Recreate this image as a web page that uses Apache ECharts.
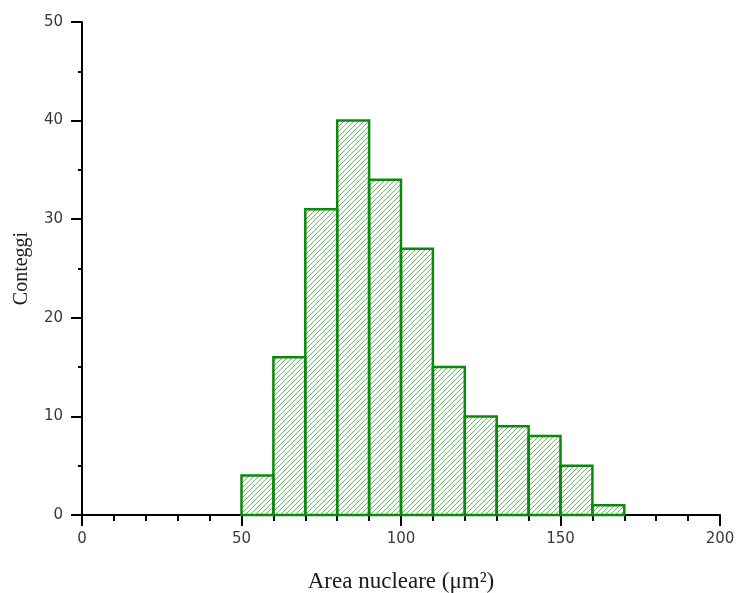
<!DOCTYPE html>
<html>
<head>
<meta charset="utf-8">
<script src="https://cdn.jsdelivr.net/npm/echarts@6/dist/echarts.min.js"></script>
<style>
  html, body { margin: 0; padding: 0; background: #fff; }
  #chart { width: 737px; height: 593px; }
</style>
</head>
<body>
<div id="chart"></div>
<script>
// Histogram bins (left edge, right edge) and counts
const binStarts = [50, 60, 70, 80, 90, 100, 110, 120, 130, 140, 150, 160];
const binEnds   = [60, 70, 80, 90, 100, 110, 120, 130, 140, 150, 160, 170];
const counts    = [4, 16, 31, 40, 34, 27, 15, 10, 9, 8, 5, 1];

const xTickLabels = [0, 50, 100, 150, 200];
const yTickLabels = [0, 10, 20, 30, 40, 50];

// Diagonal "/" hatch tile
function makeHatch() {
  const s = 5;
  const c = document.createElement('canvas');
  c.width = s; c.height = s;
  const g = c.getContext('2d');
  g.strokeStyle = 'rgba(50,165,50,0.75)';
  g.lineWidth = 1;
  g.beginPath();
  g.moveTo(-1, s + 1); g.lineTo(s + 1, -1);
  g.moveTo(-2, 2); g.lineTo(2, -2);
  g.moveTo(s - 2, s + 2); g.lineTo(s + 2, s - 2);
  g.stroke();
  return c;
}
const hatch = makeHatch();

const data = binStarts.map((s, i) => [s, binEnds[i], counts[i]]);

const chart = echarts.init(document.getElementById('chart'), null, { renderer: 'canvas' });
chart.setOption({
  animation: false,
  grid: { left: 82, right: 17, top: 22, bottom: 78, containLabel: false, outerBoundsMode: 'none' },
  xAxis: {
    type: 'value', min: 0, max: 200, interval: 50,
    name: 'Area nucleare (μm²)',
    nameLocation: 'middle', nameGap: 55,
    nameTextStyle: { fontFamily: 'Liberation Serif', fontSize: 23, color: '#1a1a1a' },
    axisLine: { lineStyle: { color: '#000', width: 2 } },
    axisTick: { length: 11, lineStyle: { color: '#000', width: 2 } },
    minorTick: { show: true, splitNumber: 5, length: 6, lineStyle: { color: '#000', width: 2 } },
    axisLabel: {
      margin: 17, fontFamily: 'DejaVu Sans', fontSize: 15, color: '#3a3a3a',
      formatter: v => xTickLabels.includes(v) ? String(v) : ''
    },
    splitLine: { show: false }
  },
  yAxis: {
    type: 'value', min: 0, max: 50, interval: 10,
    name: 'Conteggi',
    nameLocation: 'middle', nameGap: 50,
    nameTextStyle: { fontFamily: 'Liberation Serif', fontSize: 20, color: '#1a1a1a' },
    axisLine: { show: true, lineStyle: { color: '#000', width: 2 } },
    axisTick: { show: true, length: 11, lineStyle: { color: '#000', width: 2 } },
    minorTick: { show: true, splitNumber: 2, length: 4, lineStyle: { color: '#000', width: 2 } },
    axisLabel: {
      margin: 19, fontFamily: 'DejaVu Sans', fontSize: 15, color: '#3a3a3a',
      formatter: v => yTickLabels.includes(v) ? String(v) : ''
    },
    splitLine: { show: false }
  },
  series: [{
    type: 'custom',
    data: data,
    encode: { x: [0, 1], y: 2 },
    renderItem: function (params, api) {
      const p0 = api.coord([api.value(0), api.value(2)]);
      const p1 = api.coord([api.value(1), 0]);
      return {
        type: 'rect',
        shape: { x: p0[0], y: p0[1], width: p1[0] - p0[0], height: p1[1] - p0[1] },
        style: {
          fill: { image: hatch, repeat: 'repeat' },
          stroke: '#0a8a0a',
          lineWidth: 2.5
        }
      };
    }
  }]
});
</script>
</body>
</html>
